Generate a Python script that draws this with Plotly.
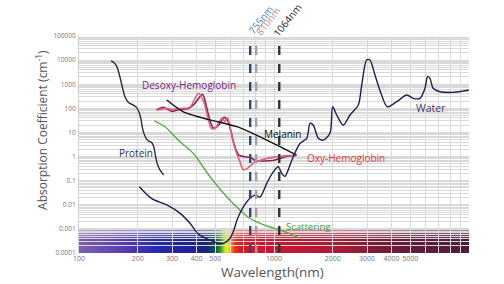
import numpy as np
import plotly.graph_objects as go
import zlib, struct, base64

# ---------------- data ----------------
protein_wl = [146, 152, 157, 162, 168, 172, 180, 190, 197, 203, 208, 212, 218, 226, 236, 242, 247, 252, 260, 272]
protein_mu = [9200, 7500, 5000, 2050, 600, 300, 170, 137, 110, 70, 35, 14, 7, 4.5, 3.8, 2.5, 1.0, 0.5, 0.28, 0.17]

water_wl = [204, 236, 282, 330, 371, 409, 470, 518, 550, 594, 618, 656, 738, 800, 848, 918, 991, 1052, 1095,
            1138, 1183, 1256, 1359, 1472, 1531, 1592, 1688, 1790, 1936, 1999, 2097, 2266, 2454, 2706, 2817,
            2986, 3104, 3294, 3563, 3809, 4257, 4795, 5180, 5606, 5945, 6134, 6306, 6554, 7096, 8299, 10000]
water_mu = [0.056, 0.018, 0.0098, 0.0044, 0.0017, 0.00061, 0.00034, 0.00025, 0.00025, 0.0004, 0.00076, 0.0032,
            0.0157, 0.025, 0.021, 0.077, 0.23, 0.38, 0.2, 0.15, 0.28, 1.0, 3.5, 5.7, 24, 20, 5.7, 4.8, 9.2, 116,
            53, 20, 53, 137, 927, 10080, 10080, 2410, 356, 116, 188, 356, 260, 260, 676, 2050, 1757, 676, 489,
            461, 576]

deoxy_wl = [250, 270, 300, 330, 360, 390, 430, 450, 470, 490, 520, 555, 580, 600, 620, 640, 660, 700, 760,
            800, 900, 1000, 1100, 1200, 1300]
deoxy_mu = [85, 110, 75, 90, 95, 150, 380, 120, 30, 15, 20, 42, 30, 12, 4, 1.8, 1.15, 1.0, 0.9, 0.7, 0.65,
            0.7, 0.9, 1.05, 1.1]

oxy_wl = [250, 280, 300, 340, 370, 410, 440, 460, 480, 500, 540, 560, 577, 600, 615, 640, 670, 690, 720,
          750, 800, 850, 900, 1000, 1100, 1200, 1300]
oxy_mu = [85, 100, 90, 100, 110, 420, 150, 35, 14, 15, 40, 28, 42, 12, 4.8, 1.5, 0.6, 0.3, 0.3, 0.39, 0.6,
          0.7, 0.8, 0.95, 1.05, 1.1, 1.1]

melanin_wl = [282, 343, 470, 644, 848, 1117, 1306]
melanin_mu = [221, 72, 33, 17.3, 6.6, 2.19, 1.15]

scatter_wl = [243, 276, 323, 385, 470, 572, 670, 753, 848, 953, 1074, 1256, 1359]
scatter_mu = [30.5, 17.3, 4.8, 1.36, 0.145, 0.0215, 0.006, 0.0027, 0.0017, 0.0012, 0.0009, 0.00055, 0.0004]

laser_wl = [755, 810, 1064]
laser_labels = ["755nm", "810nm", "1064nm"]

x_ticks = [100, 200, 300, 400, 500, 1000, 2000, 3000, 4000, 5000]
x_minor = [600, 700, 800, 900, 6000, 7000, 8000, 9000, 10000]
y_ticks = [1e-4, 1e-3, 1e-2, 1e-1, 1, 10, 100, 1000, 10000, 100000]
y_ticktext = ["0.0001", "0.001", "0.01", "0.1", "1", "10", "100", "1000", "10000", "100000"]
y_minor = [k * 10.0 ** e for e in range(-4, 5) for k in range(2, 10)]

# spectrum colour stops (wavelength, rgb)
spec_wl = [100, 180, 250, 380, 450, 500, 530, 560, 580, 600, 630, 680, 1000, 2000, 3000, 5000, 10000]
spec_rgb = [(120, 90, 170), (75, 45, 175), (30, 30, 170), (20, 20, 150), (10, 30, 110), (10, 70, 70),
            (40, 140, 40), (200, 230, 30), (255, 225, 0), (255, 140, 0), (240, 40, 20), (220, 10, 25),
            (200, 10, 40), (170, 15, 45), (130, 15, 45), (90, 15, 50), (70, 15, 55)]

# ---------------- spectrum band image ----------------
W, H = 390, 24
lx = np.linspace(2, 4, W)
lw = np.log10(spec_wl)
cols = np.stack([np.interp(lx, lw, [c[i] for c in spec_rgb]) for i in range(3)], axis=1)
rows = []
for r in range(H):
    f = r / (H - 1)
    white = max(0.0, 0.45 * (1 - f / 0.4))
    row = cols * (1 - white) + 255 * white
    rows.append(np.clip(row, 0, 255).astype(np.uint8).tobytes())


def make_png(w, h, rws):
    raw = b"".join(b"\x00" + rr for rr in rws)

    def chunk(t, d):
        return struct.pack(">I", len(d)) + t + d + struct.pack(">I", zlib.crc32(t + d) & 0xffffffff)

    return (b"\x89PNG\r\n\x1a\n" + chunk(b"IHDR", struct.pack(">IIBBBBB", w, h, 8, 2, 0, 0, 0))
            + chunk(b"IDAT", zlib.compress(raw)) + chunk(b"IEND", b""))


png_src = "data:image/png;base64," + base64.b64encode(make_png(W, H, rows)).decode()

# ---------------- figure ----------------
fig = go.Figure()


def add_line(x, y, color, width=1.4):
    fig.add_trace(go.Scatter(x=x, y=y, mode="lines", line=dict(color=color, width=width, shape="spline",
                                                                smoothing=0.8),
                             hoverinfo="skip", showlegend=False))


add_line(protein_wl, protein_mu, "#2b2b3b")
add_line(scatter_wl, scatter_mu, "#5aae4a")
add_line(deoxy_wl, deoxy_mu, "#8b2252", 1.6)
add_line(oxy_wl, oxy_mu, "#e0607e", 1.6)
add_line(melanin_wl, melanin_mu, "#111111", 1.4)
add_line(water_wl, water_mu, "#1f1f50", 1.4)

laser_colors = ["#2a4a7a", "#b09a9a", "#333333"]
for wl, c in zip(laser_wl, laser_colors):
    fig.add_trace(go.Scatter(x=[wl, wl], y=[1e-4, 6e4], mode="lines",
                             line=dict(color=c, width=2.4, dash="dash"),
                             hoverinfo="skip", showlegend=False))

label_colors = ["#3d84c0", "#c48a8a", "#222222"]
label_xshift = [10, 12, 8]
label_y = [1.076, 1.067, 1.074]
for wl, t, c, xs, yy in zip(laser_wl, laser_labels, label_colors, label_xshift, label_y):
    fig.add_annotation(x=np.log10(wl), xref="x", y=yy, yref="paper", text=t, showarrow=False,
                       textangle=-52, xanchor="center", yanchor="middle", xshift=xs,
                       font=dict(family="Open Sans", size=10, color=c))

curve_labels = [
    ("Desoxy-Hemoglobin", 0.282, 0.774, "#7a2a7a", 10),
    ("Protein", 0.146, 0.461, "#333333", 10),
    ("Melanin", 0.521, 0.548, "#111111", 10),
    ("Oxy-Hemoglobin", 0.685, 0.438, "#e0403a", 10),
    ("Water", 0.903, 0.668, "#3a3a6a", 10.5),
    ("Scattering", 0.588, 0.12, "#3a9a30", 9.5),
]
for t, x, y, c, s in curve_labels:
    fig.add_annotation(x=x, y=y, xref="paper", yref="paper", text=t, showarrow=False,
                       xanchor="center", yanchor="middle",
                       font=dict(family="Open Sans", size=s, color=c))

fig.add_annotation(x=-0.095, y=0.567, xref="paper", yref="paper", text="Absorption Coefficient (cm<sup>-1</sup>)",
                   textangle=-90, showarrow=False, xanchor="center", yanchor="middle",
                   font=dict(family="Open Sans", size=12, color="#555555"))
fig.add_annotation(x=0.495, y=-0.088, xref="paper", yref="paper", text="Wavelength(nm)",
                   xanchor="center", yanchor="middle",
                   showarrow=False, font=dict(family="Open Sans", size=13.5, color="#555555"))

fig.add_layout_image(dict(source=png_src, xref="paper", yref="paper", x=0, y=0.106, sizex=1, sizey=0.106,
                          xanchor="left", yanchor="top", sizing="stretch", layer="below", opacity=0.95))

grid = "#d9d9d9"
fig.update_xaxes(type="log", range=[2, 4], tickvals=x_ticks, ticktext=[str(v) for v in x_ticks],
                 showgrid=True, gridcolor=grid, gridwidth=1, zeroline=False, showline=False, ticks="",
                 tickfont=dict(family="Open Sans", size=7, color="#777777"),
                 minor=dict(tickvals=x_minor, showgrid=True, gridcolor=grid, gridwidth=1, ticks=""))
fig.update_yaxes(type="log", range=[-4, 5], tickvals=y_ticks, ticktext=y_ticktext,
                 showgrid=True, gridcolor=grid, gridwidth=1, zeroline=False, showline=True, linecolor="#cfcfcf",
                 ticks="", ticklabelstandoff=1,
                 tickfont=dict(family="Open Sans", size=6.5, color="#777777"),
                 minor=dict(tickvals=y_minor, showgrid=True, gridcolor=grid, gridwidth=1, ticks=""))

fig.update_layout(width=504, height=284, margin=dict(l=79, r=35, t=36, b=31),
                  paper_bgcolor="white", plot_bgcolor="white", showlegend=False)

fig.write_html("out.html")
